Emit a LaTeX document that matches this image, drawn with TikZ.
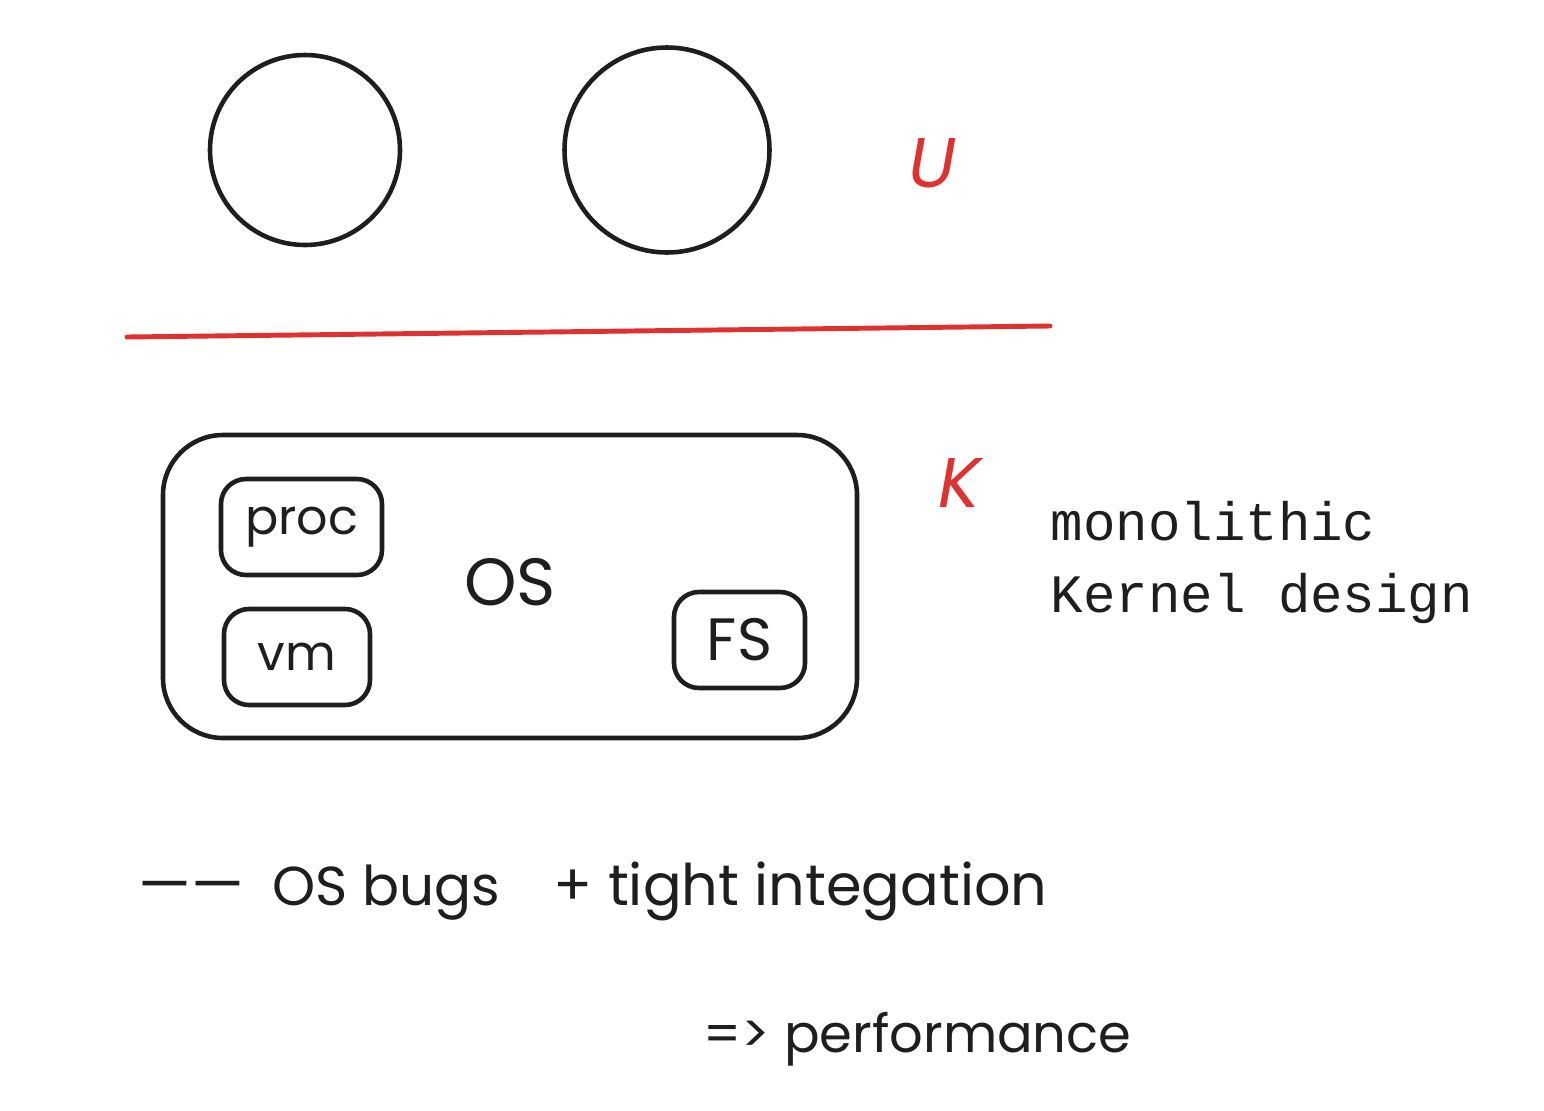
\documentclass[tikz,border=0pt]{standalone}
\usepackage{fontspec}
\setmainfont{Poppins}
\setmonofont{Liberation Mono}
\usetikzlibrary{positioning}
\definecolor{inkblack}{RGB}{30,30,30}
\definecolor{inkred}{RGB}{224,49,49}
\tikzset{
  ring/.style={
    draw=inkblack,
    circle,
    line width=1.3pt,
    inner sep=0pt
  },
  modbox/.style={
    draw=inkblack,
    rounded corners=2.5mm,
    line width=1.3pt,
    align=center,
    inner sep=0pt,
    minimum height=0.96cm,
    text=inkblack,
    font=\fontsize{14}{18}\selectfont
  },
  osbox/.style={
    draw=inkblack,
    rounded corners=6mm,
    line width=1.3pt,
    minimum width=6.94cm,
    minimum height=3.03cm
  },
  tag/.style={text=inkred, font=\fontsize{20}{24}\selectfont\itshape},
  note/.style={text=inkblack, font=\fontsize{15}{20}\selectfont, inner sep=0pt},
  codenote/.style={text=inkblack, font=\ttfamily\fontsize{15.4}{20}\selectfont, inner sep=0pt},
  divider/.style={draw=inkred, line width=1.4pt, line cap=round}
}

\begin{document}
\begin{tikzpicture}
  \useasboundingbox (0,0) rectangle (15.44,11.10);
  % user space
  \node[ring, minimum size=1.9cm] (procA) at (3.05,9.60) {};
  \node[ring, minimum size=2.05cm] (procB) at (6.67,9.60) {};
  \node[tag] (user) at (9.32,9.47) {U};
  % boundary
  \coordinate (lineL) at (1.27,7.73);
  \coordinate (lineR) at (10.50,7.84);
  \draw[divider] (lineL) -- (lineR);
  % kernel
  \node[osbox] (os) at (5.10,5.235) {};
  \node[text=inkblack, font=\fontsize{19}{24}\selectfont] (oslabel) at (5.10,5.28) {OS};
  \node[modbox, minimum width=1.61cm] (proc) at (3.015,5.83) {proc};
  \node[modbox, minimum width=1.46cm] (vm) at (2.97,4.53) {vm};
  \node[modbox, minimum width=1.31cm, font=\fontsize{17}{20}\selectfont] (fs) at (7.395,4.70) {FS};
  \node[tag] (kernel) at (9.60,6.27) {K};
  \node[codenote, anchor=base west] (mono) at (10.50,5.70) {monolithic};
  \node[codenote, anchor=base west] (design) at (10.50,4.98) {Kernel design};
  % notes
  \node[note, anchor=base west, font=\fontsize{17}{20}\selectfont] (dash) at (1.38,2.05) {——};
  \node[note, anchor=base west, font=\fontsize{15.6}{20}\selectfont] (bugs) at (2.72,2.05) {OS bugs};
  \node[note, anchor=base west, font=\fontsize{16.3}{20}\selectfont] (tight) at (5.53,2.05) {+ tight integation};
  \node[note, anchor=base west] (perf) at (7.03,0.58) {=> performance};
\end{tikzpicture}
\end{document}
